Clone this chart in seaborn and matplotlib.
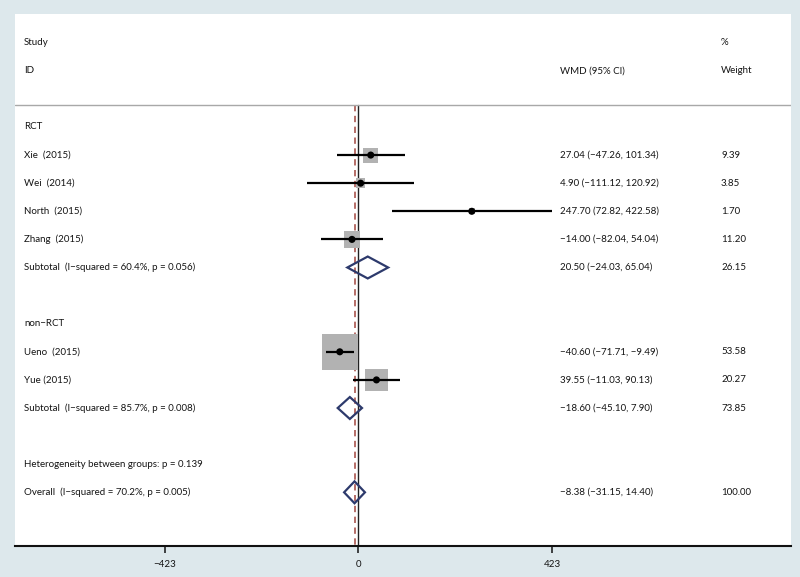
import numpy as np
import pandas as pd
import matplotlib
matplotlib.use("Agg")
import matplotlib.pyplot as plt
import seaborn as sns
from matplotlib.patches import Polygon
import matplotlib.transforms as mtransforms

# ---------------- data ----------------
studies = ["Xie  (2015)", "Wei  (2014)", "North  (2015)", "Zhang  (2015)", "Ueno  (2015)", "Yue (2015)"]
groups = ["RCT", "RCT", "RCT", "RCT", "non\u2212RCT", "non\u2212RCT"]
wmd = [27.04, 4.90, 247.70, -14.00, -40.60, 39.55]
ci_lo = [-47.26, -111.12, 72.82, -82.04, -71.71, -11.03]
ci_hi = [101.34, 120.92, 422.58, 54.04, -9.49, 90.13]
weights = [9.39, 3.85, 1.70, 11.20, 53.58, 20.27]

group_names = ["RCT", "non\u2212RCT"]
sub_est = [20.50, -18.60]
sub_lo = [-24.03, -45.10]
sub_hi = [65.04, 7.90]
sub_w = [26.15, 73.85]
sub_i2 = ["60.4%", "85.7%"]
sub_p = ["0.056", "0.008"]

overall_est, overall_lo, overall_hi, overall_w = -8.38, -31.15, 14.40, 100.00
overall_i2, overall_p = "70.2%", "0.005"
het_p = "0.139"

tick_values = [-423, 0, 423]

# ---------------- layout ----------------
sns.set_theme(style="white")
plt.rcParams['font.family'] = ['Lato', 'DejaVu Sans']
plt.rcParams['font.stretch'] = 'normal'
FS = 7.05
TXT = "#141414"

fig = plt.figure(figsize=(8.0, 5.77), dpi=100)
fig.patch.set_facecolor("#dde8ec")
ax = fig.add_axes([15/800, 31/577, 776/800, 532/577])
ax.set_facecolor("white")

# row assignment
y = 0
row_of_study = {}
row_of_group_header = {}
row_of_sub = {}
for gi, g in enumerate(group_names):
    row_of_group_header[gi] = y
    y += 1
    for si, sg in enumerate(groups):
        if sg == g:
            row_of_study[si] = y
            y += 1
    row_of_sub[gi] = y
    y += 2
row_het = y
row_overall = y + 1

ymin_row, ymax_row = -4.02, 14.91
ax.set_ylim(ymax_row, ymin_row)
ax.set_xlim(-750, 945)

sep_row = -0.78
# vertical reference lines
ax.plot([0, 0], [sep_row, ymax_row], color="#222222", lw=1.0, zorder=1)
ax.plot([overall_est, overall_est], [sep_row, ymax_row], color="#b0625c", lw=1.3,
        ls=(0, (3.5, 2.5)), zorder=1)
# separator line
ax.axhline(sep_row, color="#a8a8a8", lw=1.0)

# study data frame
df = pd.DataFrame({
    "study": studies, "wmd": wmd, "lo": ci_lo, "hi": ci_hi, "w": weights,
    "row": [row_of_study[i] for i in range(len(studies))],
})
# square size (area proportional to weight)
side_px = 4.92 * np.sqrt(df["w"].to_numpy())
df["s"] = (side_px * 0.72) ** 2

sns.scatterplot(data=df, x="wmd", y="row", size="s", sizes=(df["s"].min(), df["s"].max()),
                marker="s", color="#b2b2b2", edgecolor="none", legend=False, ax=ax, zorder=2)
for _, r in df.iterrows():
    ax.plot([r["lo"], r["hi"]], [r["row"], r["row"]], color="black", lw=1.6, zorder=3,
            solid_capstyle="butt")
sns.scatterplot(data=df, x="wmd", y="row", s=26, color="black", edgecolor="none",
                legend=False, ax=ax, zorder=4)

# diamonds
h = 0.39
def diamond(est, lo, hi, row):
    poly = Polygon([(lo, row), (est, row - h), (hi, row), (est, row + h)], closed=True,
                   fill=False, edgecolor="#2d3a6c", lw=1.6, zorder=5, joinstyle="miter")
    ax.add_patch(poly)

for gi in range(len(group_names)):
    diamond(sub_est[gi], sub_lo[gi], sub_hi[gi], row_of_sub[gi])
diamond(overall_est, overall_lo, overall_hi, row_overall)

# text columns (axes fraction x, data y)
tr = mtransforms.blended_transform_factory(ax.transAxes, ax.transData)
x_lab = (24 - 15) / 776
x_es = (560 - 15) / 776
x_w = (721 - 15) / 776

def txt(x, yv, s):
    ax.text(x, yv, s, transform=tr, ha="left", va="center", fontsize=FS, color=TXT)

def fmt(v):
    return f"{v:.2f}".replace("-", "\u2212")

txt(x_lab, -3, "Study")
txt(x_lab, -2, "ID")
txt(x_es, -2, "WMD (95% CI)")
txt(x_w, -3, "%")
txt(x_w, -2, "Weight")

for gi, g in enumerate(group_names):
    txt(x_lab, row_of_group_header[gi], g)
    txt(x_lab, row_of_sub[gi], f"Subtotal  (I\u2212squared = {sub_i2[gi]}, p = {sub_p[gi]})")
    txt(x_es, row_of_sub[gi], f"{fmt(sub_est[gi])} ({fmt(sub_lo[gi])}, {fmt(sub_hi[gi])})")
    txt(x_w, row_of_sub[gi], f"{sub_w[gi]:.2f}")

for i in range(len(studies)):
    r = row_of_study[i]
    txt(x_lab, r, studies[i])
    txt(x_es, r, f"{fmt(wmd[i])} ({fmt(ci_lo[i])}, {fmt(ci_hi[i])})")
    txt(x_w, r, f"{weights[i]:.2f}")

txt(x_lab, row_het, f"Heterogeneity between groups: p = {het_p}")
txt(x_lab, row_overall, f"Overall  (I\u2212squared = {overall_i2}, p = {overall_p})")
txt(x_es, row_overall, f"{fmt(overall_est)} ({fmt(overall_lo)}, {fmt(overall_hi)})")
txt(x_w, row_overall, f"{overall_w:.2f}")

# axes styling
for side in ["top", "right", "left"]:
    ax.spines[side].set_visible(False)
ax.spines["bottom"].set_color("#111111")
ax.spines["bottom"].set_linewidth(1.5)
ax.set_yticks([])
ax.set_xticks(tick_values)
ax.set_xticklabels([str(t).replace("-", "\u2212") for t in tick_values])
ax.tick_params(axis="x", direction="out", length=5, width=1.1, color="#111111",
               labelsize=FS, labelcolor=TXT, pad=5, bottom=True)
ax.set_xlabel("")
ax.set_ylabel("")

fig.savefig("out.png", dpi=100, facecolor=fig.get_facecolor())
